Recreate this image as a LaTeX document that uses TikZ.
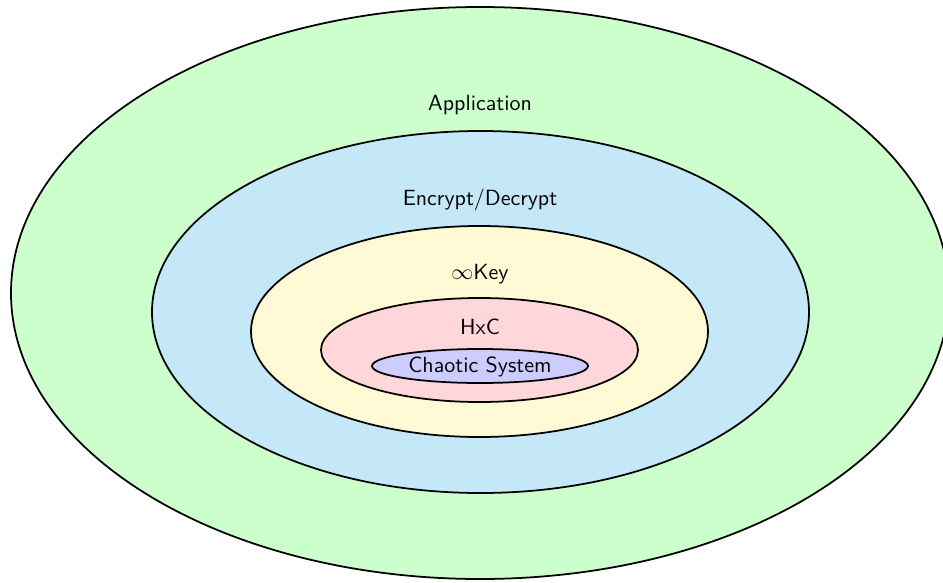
\documentclass[tikz,border=0pt]{standalone}
\usepackage{amsmath}
\usepackage{amssymb}
\usepackage{tikz}

\definecolor{appgreen}{HTML}{CCFFCC}
\definecolor{encblue}{HTML}{C5E8F8}
\definecolor{keyyellow}{HTML}{FFFAD5}
\definecolor{hxcpink}{HTML}{FFD6DA}
\definecolor{chaospurple}{HTML}{CCCCFF}

\tikzset{layer/.style={draw=black,thick}}

\begin{document}
\begin{tikzpicture}[x=0.455pt,y=-0.455pt,font=\sffamily]
	\useasboundingbox (0,0) rectangle (943,582);
	% nested layers, outermost first
	\draw[layer,fill=appgreen] (480,293) ellipse [x radius=469,y radius=286];
	\draw[layer,fill=encblue] (480.5,312) ellipse [x radius=328.5,y radius=181];
	\draw[layer,fill=keyyellow] (479.5,331.5) ellipse [x radius=228.5,y radius=105.5];
	\draw[layer,fill=hxcpink] (479.5,350) ellipse [x radius=158.5,y radius=52];
	\draw[layer,fill=chaospurple] (480,366) ellipse [x radius=108,y radius=17];
	% labels
	\node (app) at (480,105) {Application};
	\node (enc) at (480,200.5) {Encrypt/Decrypt};
	\node (key) at (480,274) {\(\infty\)Key};
	\node (hxc) at (480,327) {HxC};
	\node (chaos) at (480,366.5) {Chaotic System};
\end{tikzpicture}
\end{document}
